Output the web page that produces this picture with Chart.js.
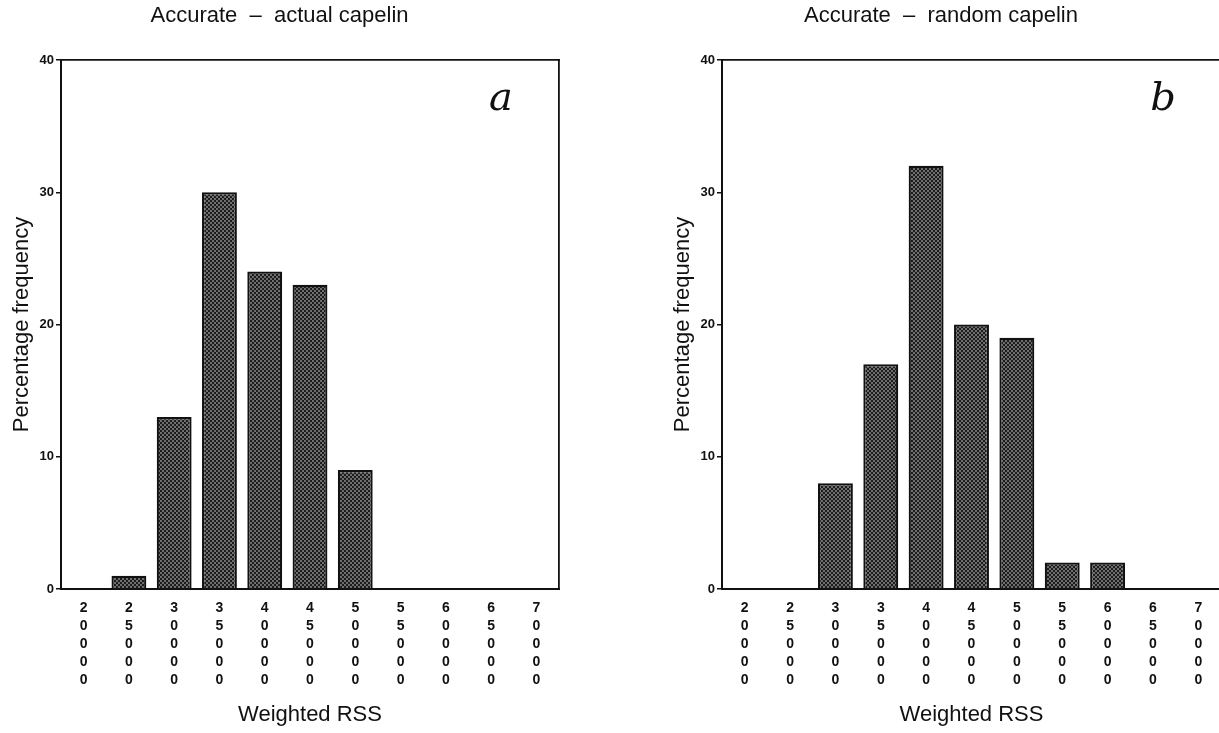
<!DOCTYPE html>
<html>
<head>
<meta charset="utf-8">
<script src="https://cdn.jsdelivr.net/npm/chart.js@4.4.1/dist/chart.umd.min.js"></script>
<style>
	html, body { margin: 0; padding: 0; background: #fff; overflow: hidden; width: 1219px; height: 733px; }
	.panel { position: absolute; top: 0; }
	#panelA { left: 0; }
	#panelB { left: 661px; }
</style>
</head>
<body>
<div class="panel" id="panelA"><canvas id="chartA" width="600" height="733"></canvas></div>
<div class="panel" id="panelB"><canvas id="chartB" width="600" height="733"></canvas></div>
<script>
// weighted RSS bins (x) and percentage frequency per bin
const rssBins = ['20000', '25000', '30000', '35000', '40000', '45000', '50000', '55000', '60000', '65000', '70000'];
const actualCapelin = [0, 1, 13, 30, 24, 23, 9, 0, 0, 0, 0];
const randomCapelin = [0, 0, 8, 17, 32, 20, 19, 2, 2, 0, 0];
const freqMax = 40;
const freqStep = 10;

Chart.defaults.font.family = "'Liberation Sans', Arial, sans-serif";
Chart.defaults.color = '#111';

// dotted crosshatch fill like the printed bars
function hatch(ctx) {
	const tile = document.createElement('canvas');
	tile.width = 4;
	tile.height = 4;
	const t = tile.getContext('2d');
	t.fillStyle = '#1c1c1c';
	t.fillRect(0, 0, 4, 4);
	t.fillStyle = '#c4c4c4';
	t.fillRect(0.3, 0.3, 1.4, 1.4);
	t.fillRect(2.3, 2.3, 1.4, 1.4);
	return ctx.createPattern(tile, 'repeat');
}

// handwritten panel letter in the upper right corner
const panelLetter = {
	id: 'panelLetter',
	afterDraw(chart, args, opts) {
		const { ctx, chartArea } = chart;
		ctx.save();
		ctx.font = 'italic 40px "DejaVu Serif"';
		ctx.fillStyle = '#111';
		ctx.textAlign = 'center';
		ctx.textBaseline = 'middle';
		ctx.fillText(opts.text, chartArea.right - 58, chartArea.top + 40);
		ctx.restore();
	},
};

const frameAxis = (axis, position) => ({
	type: 'linear',
	axis: axis,
	position: position,
	ticks: { display: false },
	grid: { display: false, drawTicks: false },
	border: { display: true, color: '#111', width: 1.8 },
});

function makeChart(id, title, letter, values, padRight) {
	const ctx = document.getElementById(id).getContext('2d');
	new Chart(ctx, {
		type: 'bar',
		data: {
			labels: rssBins,
			datasets: [
				{
					data: values,
					backgroundColor: hatch(ctx),
					borderColor: '#111',
					borderWidth: 2.2,
					barPercentage: 0.77,
					categoryPercentage: 1,
				},
			],
		},
		options: {
			responsive: false,
			animation: false,
			devicePixelRatio: 1,
			layout: { padding: { right: padRight } },
			plugins: {
				legend: { display: false },
				tooltip: { enabled: false },
				title: {
					display: true,
					text: title,
					color: '#111',
					font: { size: 22, weight: 'normal' },
					padding: { top: 3, bottom: 30.6 },
				},
				panelLetter: { text: letter },
			},
			scales: {
				x: {
					grid: { display: false, drawTicks: false },
					border: { display: true, color: '#111', width: 2 },
					ticks: {
						autoSkip: false,
						maxRotation: 0,
						padding: 10,
						color: '#111',
						font: { size: 14, weight: 'bold', lineHeight: 1.29 },
						callback: function (v) { return this.getLabelForValue(v).split(''); },
					},
					title: {
						display: true,
						text: 'Weighted RSS',
						color: '#111',
						font: { size: 22 },
						padding: { top: 4, bottom: 5 },
					},
					afterFit: (s) => { s.height = 144; },
				},
				y: {
					min: 0,
					max: freqMax,
					grid: { drawOnChartArea: false, color: '#111', tickLength: 5, lineWidth: 1.5 },
					border: { display: true, color: '#111', width: 2 },
					ticks: {
						stepSize: freqStep,
						padding: 2,
						color: '#111',
						font: { size: 13, weight: 'bold' },
					},
					title: {
						display: true,
						text: 'Percentage frequency',
						color: '#111',
						font: { size: 22 },
						padding: { top: 9, bottom: 0 },
					},
					afterFit: (s) => { s.width = 61; },
				},
				xTop: frameAxis('x', 'top'),
				yRight: frameAxis('y', 'right'),
			},
		},
		plugins: [panelLetter],
	});
}

makeChart('chartA', 'Accurate  –  actual capelin', 'a', actualCapelin, 41);
makeChart('chartB', 'Accurate  –  random capelin', 'b', randomCapelin, 40);
</script>
</body>
</html>
